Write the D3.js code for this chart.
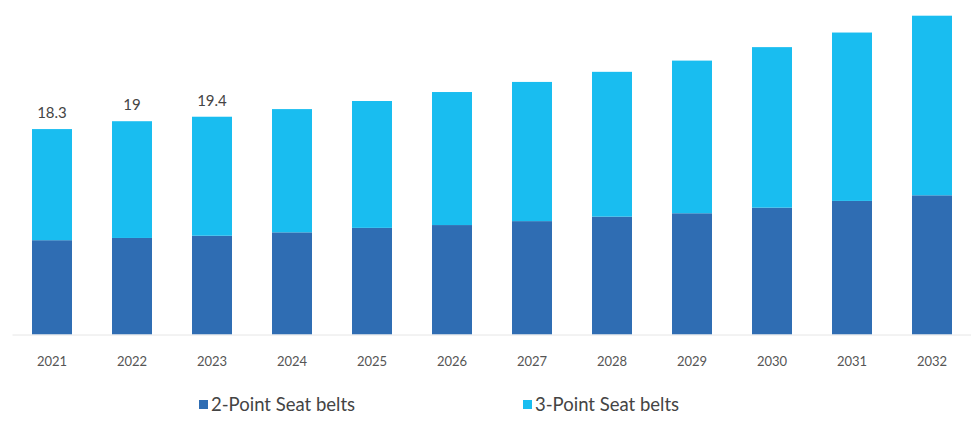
<!DOCTYPE html>
<html>
<head>
<meta charset="utf-8">
<script src="https://cdn.jsdelivr.net/npm/d3@7/dist/d3.min.js"></script>
<style>
  html, body { margin: 0; padding: 0; background: #ffffff; }
  svg { display: block; }
</style>
</head>
<body>
<svg id="chart" width="971" height="423"></svg>
<script>
// Seat belt market by type, 2021–2032
const years = ["2021","2022","2023","2024","2025","2026","2027","2028","2029","2030","2031","2032"];
const twoPoint   = [8.4, 8.6, 8.8, 9.1, 9.5, 9.75, 10.1, 10.5, 10.8, 11.3, 11.9, 12.4];
const threePoint = [9.9, 10.4, 10.6, 10.98, 11.3, 11.85, 12.4, 12.9, 13.6, 14.3, 15.0, 16.0];
const totalLabels = ["18.3", "19", "19.4"];
const seriesNames = ["2-Point Seat belts", "3-Point Seat belts"];
const colors = ["#2f6db3", "#19bdf0"];

const baseline = 334.5;
const svg = d3.select("#chart");

const x = d3.scaleBand()
  .domain(years)
  .range([12, 972])
  .paddingInner(0.5)
  .paddingOuter(0.25);

const y = d3.scaleLinear()
  .domain([0, 28.4])
  .range([baseline, 15.7]);

const rows = years.map((yr, i) => ({ year: yr, two: twoPoint[i], three: threePoint[i] }));
const stacked = d3.stack().keys(["two", "three"])(rows);

svg.append("g")
  .selectAll("g")
  .data(stacked)
  .join("g")
  .attr("fill", (d, i) => colors[i])
  .selectAll("rect")
  .data(d => d)
  .join("rect")
  .attr("x", d => x(d.data.year))
  .attr("width", x.bandwidth())
  .attr("y", d => y(d[1]))
  .attr("height", d => y(d[0]) - y(d[1]));

// baseline axis
const axis = svg.append("g")
  .attr("transform", `translate(0,${baseline})`)
  .call(d3.axisBottom(x).tickSize(0).tickPadding(22));
axis.select(".domain").attr("stroke", "#e6e6e6").attr("stroke-width", 1);
axis.selectAll("text")
  .attr("font-family", "Lato, 'Open Sans', sans-serif")
  .attr("font-size", 13)
  .attr("fill", "#555555");

// total labels on the first bars
svg.append("g")
  .selectAll("text")
  .data(totalLabels)
  .join("text")
  .attr("x", (d, i) => x(years[i]) + x.bandwidth() / 2)
  .attr("y", (d, i) => y(twoPoint[i] + threePoint[i]) - 11)
  .attr("text-anchor", "middle")
  .attr("font-family", "Lato, 'Open Sans', sans-serif")
  .attr("font-size", 15)
  .attr("fill", "#444444")
  .text(d => d);

// legend
const legendX = [199, 523];
const legend = svg.append("g")
  .selectAll("g")
  .data(seriesNames)
  .join("g")
  .attr("transform", (d, i) => `translate(${legendX[i]},405)`);
legend.append("rect")
  .attr("x", 0).attr("y", -5)
  .attr("width", 9).attr("height", 9)
  .attr("fill", (d, i) => colors[i]);
legend.append("text")
  .attr("x", 12).attr("y", 0)
  .attr("dy", "0.35em")
  .attr("font-family", "Lato, 'Open Sans', sans-serif")
  .attr("font-size", 18.5)
  .attr("fill", "#444444")
  .text(d => d);
</script>
</body>
</html>
